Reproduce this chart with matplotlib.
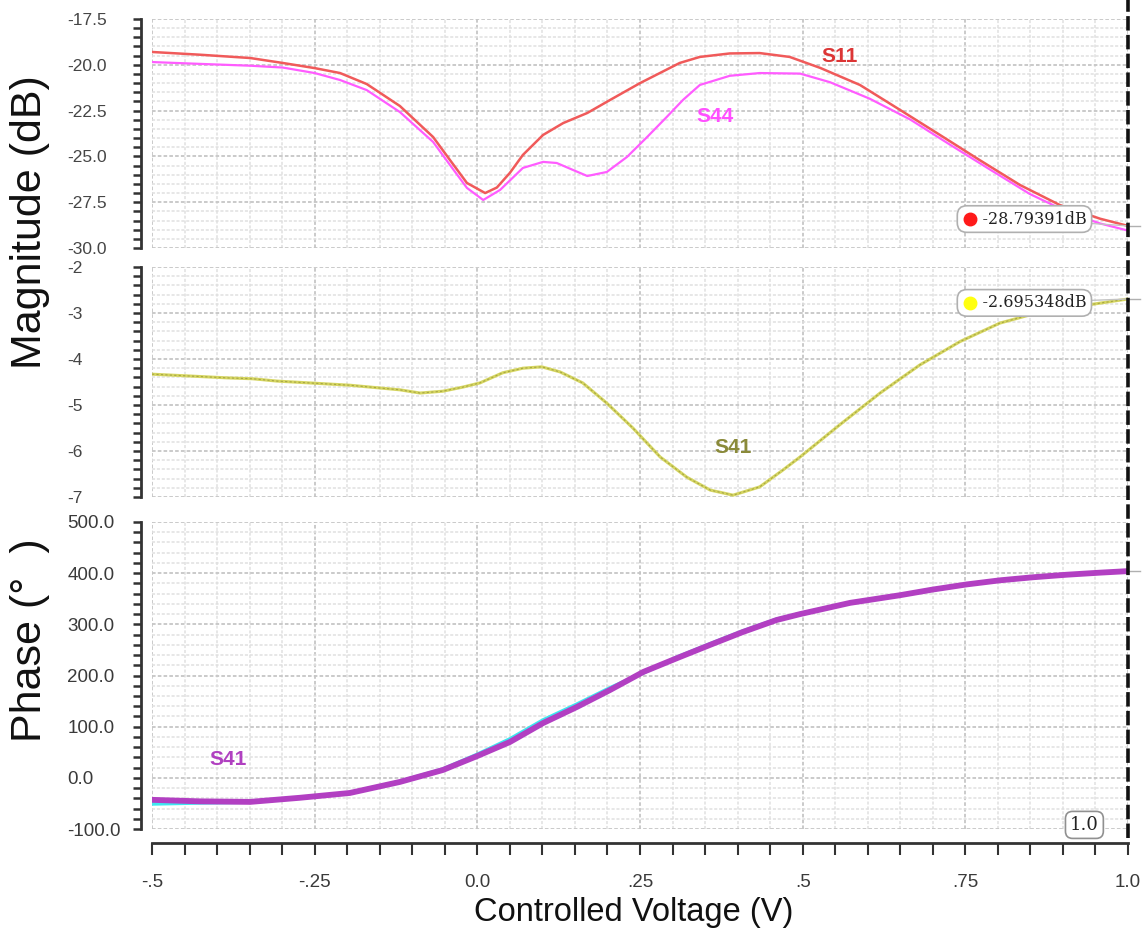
import matplotlib
matplotlib.use('Agg')
import matplotlib.pyplot as plt
from matplotlib.lines import Line2D
from matplotlib.ticker import MultipleLocator, FuncFormatter
from matplotlib import transforms

plt.rcParams['font.family'] = ['Liberation Sans', 'DejaVu Sans']

# --- data ---
s11_v = [-0.5, -0.426, -0.349, -0.299, -0.25, -0.211, -0.17, -0.119, -0.068, -0.042,
         -0.016, 0.012, 0.03, 0.05, 0.07, 0.101, 0.132, 0.169, 0.204, 0.25,
         0.311, 0.342, 0.388, 0.434, 0.48, 0.527, 0.588, 0.65, 0.711, 0.772,
         0.834, 0.895, 0.957, 1.0]
s11_db = [-19.30, -19.45, -19.63, -19.90, -20.18, -20.45, -21.05, -22.25, -23.94, -25.20,
          -26.45, -27.00, -26.70, -25.90, -24.92, -23.83, -23.18, -22.63, -21.92, -21.00,
          -19.90, -19.57, -19.38, -19.36, -19.57, -20.17, -21.10, -22.47, -23.83, -25.20,
          -26.56, -27.65, -28.40, -28.79391]

s44_v = [-0.5, -0.426, -0.349, -0.299, -0.25, -0.211, -0.17, -0.119, -0.068, -0.042,
         -0.016, 0.009, 0.035, 0.07, 0.101, 0.122, 0.147, 0.169, 0.199, 0.23,
         0.261, 0.291, 0.316, 0.342, 0.388, 0.434, 0.496, 0.542, 0.603, 0.665,
         0.726, 0.788, 0.849, 0.911, 0.957, 1.0]
s44_db = [-19.85, -19.95, -20.05, -20.15, -20.45, -20.83, -21.38, -22.58, -24.21, -25.47,
          -26.72, -27.38, -26.83, -25.63, -25.30, -25.36, -25.74, -26.07, -25.85, -25.03,
          -23.94, -22.85, -21.92, -21.10, -20.60, -20.45, -20.48, -20.95, -21.85, -22.98,
          -24.35, -25.72, -27.05, -28.10, -28.66, -29.05]

s41_v = [-0.5, -0.442, -0.385, -0.345, -0.308, -0.196, -0.119, -0.088, -0.053, -0.022,
         0.004, 0.039, 0.07, 0.099, 0.127, 0.162, 0.199, 0.239, 0.281, 0.322,
         0.358, 0.393, 0.434, 0.47, 0.496, 0.557, 0.619, 0.68, 0.742, 0.803,
         0.865, 0.931, 1.0]
s41_db = [-4.33, -4.37, -4.41, -4.43, -4.48, -4.57, -4.67, -4.74, -4.70, -4.61,
          -4.52, -4.30, -4.20, -4.17, -4.28, -4.52, -4.96, -5.50, -6.13, -6.57,
          -6.85, -6.96, -6.78, -6.41, -6.13, -5.43, -4.74, -4.13, -3.62, -3.22,
          -2.98, -2.84, -2.695348]

ph_v = [-0.5, -0.426, -0.349, -0.273, -0.196, -0.119, -0.053, 0.0, 0.05, 0.101,
        0.153, 0.204, 0.255, 0.307, 0.358, 0.408, 0.46, 0.496, 0.573, 0.65,
        0.70, 0.752, 0.803, 0.854, 0.906, 0.957, 1.0]
ph_purple = [-43, -46, -47, -39, -29.6, -8, 15.3, 42.7, 70, 107,
             138.5, 171.7, 206.9, 234, 260, 285, 308.5, 320, 342, 357,
             368, 378, 386, 392, 397, 401, 404]
ph_cyan = [-51, -49, -47.5, -39, -29, -7, 17, 46, 76, 113,
           144, 176, 205, 236, 262, 287, 310, 321, 342, 357,
           368, 378, 386, 392, 397, 401, 404]

s11_marker = -28.79391
s41_marker = -2.695348
cursor_v = 1.0

x_ticks = [-0.5, -0.25, 0.0, 0.25, 0.5, 0.75, 1.0]
x_tick_labels = ['-.5', '-.25', '0.0', '.25', '.5', '.75', '1.0']

# --- layout (pixel based) ---
W_PX, H_PX = 1145, 942
fig = plt.figure(figsize=(W_PX / 100, H_PX / 100), dpi=100)
left = 152 / W_PX
width = 976 / W_PX
ax1 = fig.add_axes([left, 1 - 248 / H_PX, width, 229 / H_PX])
ax2 = fig.add_axes([left, 1 - 497 / H_PX, width, 230 / H_PX])
ax3 = fig.add_axes([left, 1 - 829 / H_PX, width, 307 / H_PX])

tick_col = '#454545'

def style(ax, ymin, ymax, major, minor, fmt, tick_size, tick_col):
    ax.set_xlim(-0.5, 1.0)
    ax.set_ylim(ymin, ymax)
    for s in ['top', 'right']:
        ax.spines[s].set_visible(False)
    ax.spines['left'].set_position(('outward', 8))
    ax.spines['left'].set_linewidth(2)
    ax.spines['left'].set_color('#333333')
    ax.xaxis.set_major_locator(MultipleLocator(0.25))
    ax.xaxis.set_minor_locator(MultipleLocator(0.05))
    ax.yaxis.set_major_locator(MultipleLocator(major))
    ax.yaxis.set_minor_locator(MultipleLocator(minor))
    ax.yaxis.set_major_formatter(FuncFormatter(lambda v, p: fmt.format(v)))
    ax.tick_params(axis='y', which='both', direction='out', length=6, width=1.8,
                   color='#333333', pad=47, labelcolor=tick_col, labelsize=tick_size)
    ax.grid(which='major', color='#c6c6c6', lw=1.3, ls=(0, (2, 1.2)))
    ax.grid(which='minor', color='#e0e0e0', lw=1.1, ls=(0, (2, 1.2)))
    ax.set_axisbelow(True)
    for lab in ax.get_yticklabels():
        lab.set_horizontalalignment('left')

style(ax1, -30, -17.5, 2.5, 0.5, '{:.1f}', 12.5, '#454545')
style(ax2, -7, -2, 1, 0.2, '{:.0f}', 12.5, '#454545')
style(ax3, -100, 500, 100, 20, '{:.1f}', 13.5, '#3a3a3a')

for ax in (ax1, ax2):
    ax.spines['bottom'].set_visible(False)
    ax.tick_params(axis='x', which='both', bottom=False, labelbottom=False)

ax3.spines['bottom'].set_position(('outward', 10))
ax3.spines['bottom'].set_linewidth(2)
ax3.spines['bottom'].set_color('#333333')
ax3.set_xticks(x_ticks, x_tick_labels)
ax3.tick_params(axis='x', which='both', direction='out', length=8.5, width=1.5,
                color='#333333', pad=14, labelcolor='#3a3a3a', labelsize=13.5)

# --- curves ---
ax1.plot(s44_v, s44_db, color='#ff5cff', lw=1.6, zorder=3)
ax1.plot(s11_v, s11_db, color='#f05a5a', lw=1.8, zorder=4)
ax2.plot(s41_v, s41_db, color='#d6d662', lw=2.2, zorder=3)
ax2.plot(s41_v, s41_db, color='#a6a644', lw=0.8, ls=(0, (2, 2)), zorder=4)
ax3.plot(ph_v, ph_cyan, color='#3ee8f0', lw=2.6, zorder=3)
ax3.plot(ph_v, ph_purple, color='#b23fc2', lw=4.2, zorder=4, solid_capstyle='round')

# --- curve labels ---
ax1.text(0.557, -19.52, 'S11', color='#dc3535', fontsize=15, fontweight='bold',
         ha='center', va='center')
ax1.text(0.365, -22.8, 'S44', color='#ff50ff', fontsize=15, fontweight='bold',
         ha='center', va='center')
ax2.text(0.393, -5.93, 'S41', color='#8a8a3a', fontsize=15, fontweight='bold',
         ha='center', va='center')
ax3.text(-0.383, 35, 'S41', color='#b040c0', fontsize=15, fontweight='bold',
         ha='center', va='center')

# --- marker readouts ---
box = dict(boxstyle='round,pad=0.3,rounding_size=0.6', fc='white', ec='#b0b0b0', lw=1.2)
conn = dict(arrowstyle='-', color='#c4c4c4', lw=1.0, shrinkA=0, shrinkB=0)
ax1.annotate(f'    {s11_marker}dB', xy=(cursor_v, s11_marker), xytext=(0.745, -28.42),
             ha='left', va='center', fontsize=11.5, family='DejaVu Serif', color='#222222',
             bbox=box, arrowprops=conn, zorder=6, annotation_clip=False)
ax1.plot(0.757, -28.42, 'o', color='#ff1a1a', ms=9, zorder=7, clip_on=False)
ax2.annotate(f'    {s41_marker}dB', xy=(cursor_v, s41_marker), xytext=(0.745, -2.78),
             ha='left', va='center', fontsize=11.5, family='DejaVu Serif', color='#222222',
             bbox=box, arrowprops=conn, zorder=6, annotation_clip=False)
ax2.plot(0.757, -2.78, 'o', color='#ffff10', ms=9, zorder=7, clip_on=False)

ax3.text(0.933, -92, f'{cursor_v:.1f}', fontsize=13, family='DejaVu Serif', color='#222222',
         ha='center', va='center', zorder=6, clip_on=False,
         bbox=dict(boxstyle='round,pad=0.25,rounding_size=0.4', fc='white', ec='#909090', lw=1.2))

# small stubs right of cursor
for ax, val in ((ax1, s11_marker), (ax2, s41_marker), (ax3, ph_purple[-1])):
    ax.plot([cursor_v, cursor_v + 0.018], [val, val], color='#b0b0b0', lw=1, clip_on=False)

# dashed cursor line through all panels
tr = transforms.blended_transform_factory(ax3.transData, fig.transFigure)
fig.add_artist(Line2D([cursor_v, cursor_v], [1 - 838 / H_PX, 1.0], transform=tr,
                      color='#111111', lw=2.6, ls=(0, (4, 1.2)), zorder=10))

# --- axis labels ---
fig.text(30 / W_PX, 1 - 222 / H_PX, 'Magnitude (dB)', rotation=90, fontsize=31,
         ha='center', va='center', color='#111111')
fig.text(30 / W_PX, 1 - 640 / H_PX, 'Phase (°  )', rotation=90, fontsize=31,
         ha='center', va='center', color='#111111')
fig.text(634 / W_PX, 1 - 912 / H_PX, 'Controlled Voltage (V)', fontsize=23.5,
         ha='center', va='center', color='#111111')

fig.savefig('out.png', dpi=100)
